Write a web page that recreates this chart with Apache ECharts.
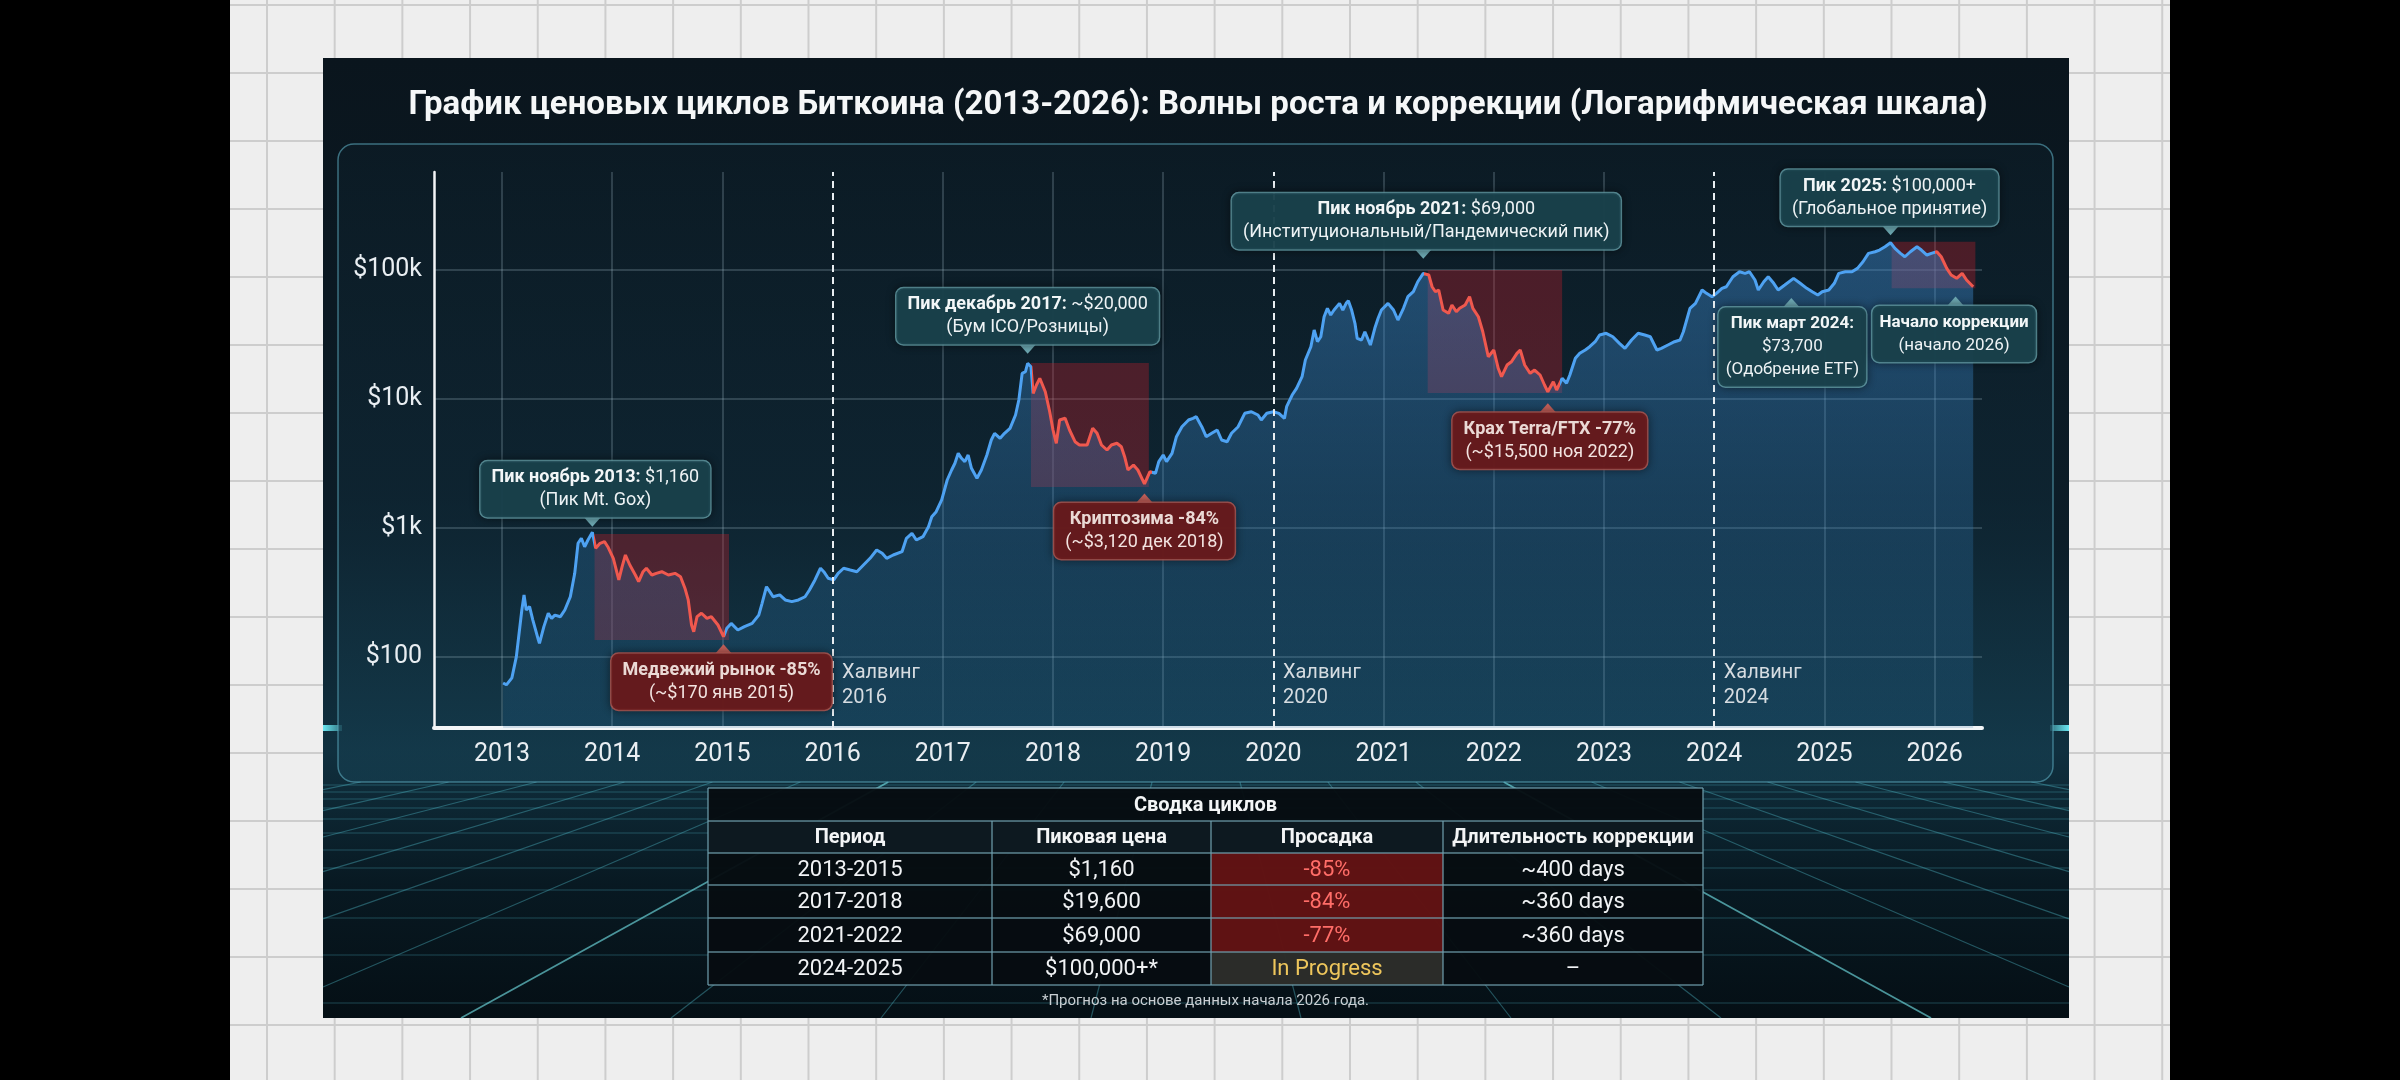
<!DOCTYPE html>
<html lang="ru">
<head>
<meta charset="utf-8">
<title>График ценовых циклов Биткоина (2013-2026)</title>
<script src="https://cdn.jsdelivr.net/npm/echarts@6.0.0/dist/echarts.min.js"></script>
<style>
  html, body { margin: 0; padding: 0; width: 2400px; height: 1080px; background: #000; overflow: hidden; }
  #paper {
    position: absolute; left: 230px; top: 0; width: 1940px; height: 1080px;
    background-color: #eeeeee;
    background-image: linear-gradient(#cdcdcd 2px, transparent 2px), linear-gradient(90deg, #cdcdcd 2px, transparent 2px);
    background-size: 67.7px 68px;
    background-position: 36px 4px;
  }
  #chart { position: absolute; left: 0; top: 0; width: 2400px; height: 1080px; }
</style>
</head>
<body>
<div id="paper"></div>
<div id="chart"></div>
<script>
var FONT = 'Roboto, "Noto Sans", sans-serif';

// price path (decimal year, USD)
var dates = [
  2013.01, 2013.04, 2013.09, 2013.13, 2013.18, 2013.20, 2013.22, 2013.25, 2013.28, 2013.33, 2013.34, 2013.38, 2013.42, 2013.45,
  2013.48, 2013.53, 2013.57, 2013.62, 2013.66, 2013.69, 2013.72, 2013.75, 2013.78, 2013.82, 2013.85, 2013.89, 2013.93, 2013.96,
  2014.01, 2014.06, 2014.09, 2014.12, 2014.16, 2014.21, 2014.24, 2014.28, 2014.31, 2014.36, 2014.40, 2014.45,
  2014.51, 2014.57, 2014.62, 2014.66, 2014.69, 2014.72, 2014.74, 2014.77, 2014.81, 2014.86, 2014.90, 2014.96,
  2015.01, 2015.04, 2015.08, 2015.14, 2015.20, 2015.27, 2015.33, 2015.36, 2015.40, 2015.43, 2015.46,
  2015.52, 2015.57, 2015.63, 2015.69, 2015.75, 2015.79, 2015.84, 2015.89, 2015.92, 2015.96,
  2016.01, 2016.05, 2016.10, 2016.16, 2016.22, 2016.28, 2016.34, 2016.40, 2016.45, 2016.49,
  2016.55, 2016.63, 2016.67, 2016.72, 2016.76, 2016.82, 2016.87, 2016.90, 2016.94, 2016.99,
  2017.04, 2017.08, 2017.11, 2017.14, 2017.17, 2017.20, 2017.23, 2017.26, 2017.31, 2017.35, 2017.40, 2017.44, 2017.47, 2017.52,
  2017.56, 2017.61, 2017.66, 2017.69, 2017.72, 2017.75, 2017.77, 2017.80, 2017.82, 2017.85, 2017.88, 2017.93, 2017.97,
  2018.00, 2018.03, 2018.06, 2018.11, 2018.15, 2018.20, 2018.24, 2018.31, 2018.36, 2018.40, 2018.44, 2018.49,
  2018.53, 2018.58, 2018.62, 2018.65, 2018.68, 2018.73, 2018.77, 2018.83, 2018.88, 2018.93, 2018.96,
  2019.00, 2019.03, 2019.08, 2019.12, 2019.17, 2019.23, 2019.27, 2019.30, 2019.35, 2019.39, 2019.44,
  2019.49, 2019.53, 2019.58, 2019.62, 2019.68, 2019.74, 2019.80, 2019.86, 2019.89, 2019.94,
  2020.00, 2020.05, 2020.10, 2020.12, 2020.17, 2020.21, 2020.26, 2020.29, 2020.34, 2020.37, 2020.40, 2020.43, 2020.46, 2020.49,
  2020.52, 2020.55, 2020.60, 2020.63, 2020.66, 2020.68, 2020.71, 2020.74, 2020.76, 2020.80, 2020.83, 2020.88, 2020.92, 2020.95, 2020.98,
  2021.04, 2021.09, 2021.13, 2021.18, 2021.22, 2021.27, 2021.31, 2021.36, 2021.41, 2021.44, 2021.47, 2021.50,
  2021.54, 2021.59, 2021.62, 2021.66, 2021.69, 2021.74, 2021.78, 2021.81, 2021.86, 2021.90, 2021.95,
  2022.00, 2022.04, 2022.07, 2022.12, 2022.16, 2022.21, 2022.24, 2022.28, 2022.33, 2022.37, 2022.42, 2022.46,
  2022.49, 2022.54, 2022.57, 2022.62, 2022.66, 2022.69, 2022.74, 2022.78, 2022.83, 2022.87, 2022.92, 2022.96,
  2023.02, 2023.08, 2023.14, 2023.19, 2023.25, 2023.31, 2023.37, 2023.42, 2023.48, 2023.52,
  2023.58, 2023.64, 2023.69, 2023.72, 2023.78, 2023.83, 2023.89, 2023.93, 2023.98,
  2024.02, 2024.07, 2024.11, 2024.17, 2024.23, 2024.28, 2024.32, 2024.37, 2024.40, 2024.45,
  2024.49, 2024.54, 2024.58, 2024.64, 2024.72, 2024.78, 2024.84, 2024.89, 2024.94, 2024.98,
  2025.04, 2025.09, 2025.13, 2025.19, 2025.25, 2025.30, 2025.35, 2025.40, 2025.46, 2025.50,
  2025.55, 2025.60, 2025.64, 2025.69, 2025.73, 2025.78, 2025.84, 2025.88, 2025.93, 2025.97,
  2026.02, 2026.06, 2026.11, 2026.15, 2026.20, 2026.25, 2026.29, 2026.35
];
var prices = [
  62, 60, 68, 99, 229, 300, 229, 243, 191, 134, 126, 170, 216, 197,
  209, 203, 229, 290, 441, 755, 826, 710, 801, 919, 691, 755, 777, 710,
  577, 392, 497, 612, 512, 428, 380, 454, 483, 428, 441, 454,
  428, 441, 415, 338, 274, 175, 155, 203, 216, 197, 203, 175,
  142, 165, 180, 160, 170, 180, 209, 258, 347, 318, 290,
  300, 274, 266, 274, 290, 327, 392, 483, 454, 404,
  392, 441, 483, 468, 454, 512, 577, 670, 631, 577,
  612, 650, 826, 903, 801, 850, 1016, 1215, 1329, 1639,
  2343, 2803, 3160, 3778, 3455, 3252, 3665, 2890, 2415, 2803, 3665, 4794, 5404, 4941,
  5404, 5910, 7497, 9800, 15810, 16270, 18910, 17790, 11050, 12830, 14460, 11370, 7950,
  5733, 4519, 6855, 7070, 5733, 4650, 4384, 4384, 5910, 5404, 4384, 4009,
  4384, 4519, 4253, 3556, 2803, 3065, 2803, 2182, 2719, 2642, 3252,
  3665, 3252, 3778, 5086, 6083, 6855, 7070, 7272, 6083, 5086, 5404,
  5733, 4794, 4650, 5404, 6083, 7727, 7950, 7497, 6855, 7727,
  7950, 7727, 7060, 8700, 10720, 12090, 14880, 20060, 25440, 34310, 27830, 30430, 43530, 50580,
  44860, 49070, 55310, 49070, 55310, 57940, 49070, 38670, 29580, 28690, 33280, 26230, 35380, 42300, 49070,
  55310, 49070, 41030, 50580, 62260, 68070, 81400, 94600, 91780, 74440, 68070, 70200,
  49070, 46250, 53650, 47590, 50580, 53650, 62260, 50580, 43530, 33280, 21280,
  23990, 17290, 14880, 18340, 19450, 22610, 23990, 18340, 15810, 16770, 15340, 12830,
  11370, 13610, 11730, 14460, 13220, 15340, 20680, 22610, 23990, 25440, 27830, 31370,
  32340, 30430, 27040, 24730, 28690, 32340, 31370, 30430, 23990, 24730,
  26230, 27830, 28690, 33280, 50580, 55310, 70200, 66140, 62260,
  66140, 72350, 74440, 89030, 97340, 94600, 97340, 83940, 70200, 81400,
  89030, 79130, 70200, 76740, 86510, 79130, 72350, 68070, 64170, 68070,
  70200, 79130, 94600, 97340, 97340, 103400, 116400, 135300, 139200, 143500,
  152300, 163600, 148000, 135300, 127300, 139200, 152300, 143500, 131300, 135300,
  139200, 127300, 103400, 91780, 86510, 94600, 83940, 74440
];

var axisYears = [2013, 2014, 2015, 2016, 2017, 2018, 2019, 2020, 2021, 2022, 2023, 2024, 2025, 2026];
var halvingYears = [2016, 2020, 2024];
var priceTicks = [100, 1000, 10000, 100000];
var priceTickLabels = ['$100', '$1k', '$10k', '$100k'];

// correction boxes: [start year, top price, end year, bottom price]
var corrections = [
  [2013.84, 892, 2015.06, 134],
  [2017.80, 19010, 2018.87, 2068],
  [2021.40, 100400, 2022.62, 11120],
  [2025.61, 166500, 2026.37, 72350]
];
// stretches of the line drawn red
var redSpans = [[2013.835, 2015.025], [2017.81, 2018.90], [2021.37, 2022.60], [2026.0, 2026.5]];

var notes = [
  { at: [2013.82, 919], head: 'Пик ноябрь 2013:', tail: ' $1,160', lines: ['(Пик Mt. Gox)'], tone: 'peak' },
  { at: [2017.77, 18910], head: 'Пик декабрь 2017:', tail: ' ~$20,000', lines: ['(Бум ICO/Розницы)'], tone: 'peak' },
  { at: [2021.36, 94600], head: 'Пик ноябрь 2021:', tail: ' $69,000', lines: ['(Институциональный/Пандемический пик)'], tone: 'peak' },
  { at: [2025.60, 163600], head: 'Пик 2025:', tail: ' $100,000+', lines: ['(Глобальное принятие)'], tone: 'peak' },
  { at: [2024.70, 84000], head: 'Пик март 2024:', tail: '', lines: ['$73,700', '(Одобрение ETF)'], tone: 'peak' },
  { at: [2026.19, 87000], head: 'Начало коррекции', tail: '', lines: ['(начало 2026)'], tone: 'peak' },
  { at: [2015.01, 142], head: 'Медвежий рынок -85%', tail: '', lines: ['(~$170 янв 2015)'], tone: 'drop' },
  { at: [2018.83, 2182], head: 'Криптозима -84%', tail: '', lines: ['(~$3,120 дек 2018)'], tone: 'drop' },
  { at: [2022.49, 11370], head: 'Крах Terra/FTX -77%', tail: '', lines: ['(~$15,500 ноя 2022)'], tone: 'drop' }
];

var tableTitle = 'Сводка циклов';
var tableHeader = ['Период', 'Пиковая цена', 'Просадка', 'Длительность коррекции'];
var tablePeriods = ['2013-2015', '2017-2018', '2021-2022', '2024-2025'];
var tablePeaks = ['$1,160', '$19,600', '$69,000', '$100,000+*'];
var tableDrawdowns = ['-85%', '-84%', '-77%', 'In Progress'];
var tableDurations = ['~400 days', '~360 days', '~360 days', '–'];
var tableNote = '*Прогноз на основе данных начала 2026 года.';

var chartTitle = 'График ценовых циклов Биткоина (2013-2026): Волны роста и коррекции (Логарифмическая шкала)';

// ---- layout / style ----
var BLUE = '#4ea2f2';
var RED = '#f0584e';
var noteOffsets = [[3, -43], [0, -47], [3, -52], [-1, -45], [1, 67], [-1.5, 56], [-2, 45], [0, 47], [2, 49]];
var noteFontSize = [18, 18, 18, 18, 17, 17, 18, 18, 18];
var notePadX = [11, 11, 11, 11, 7, 7, 11, 11, 11];
var LINE_H = 23, PAD_V = 5;
var HALVING_LABEL_AT = 59;

var seriesData = dates.map(function (d, i) { return [d, prices[i]]; });

function noteItem(n, i) {
  var off = noteOffsets[i];
  var fs = noteFontSize[i];
  var red = n.tone === 'drop';
  var above = off[1] < 0;
  var h = (1 + n.lines.length) * LINE_H + 2 * PAD_V + 3;
  var edge = above ? off[1] + h / 2 : off[1] - h / 2;
  var ty = above ? edge + 3.5 : edge - 3.5;
  var text = '{h|' + n.head + '}' + (n.tail ? '{t|' + n.tail + '}' : '');
  n.lines.forEach(function (l) { text += '\n{t|' + l + '}'; });
  return {
    coord: n.at,
    symbol: above ? 'path://M0,0L20,0L10,12Z' : 'path://M10,0L20,12L0,12Z',
    symbolSize: [16, 9],
    symbolOffset: [0, ty],
    itemStyle: { color: red ? '#c4605a' : '#6eaab4' },
    label: {
      show: true,
      position: 'inside',
      offset: [off[0], off[1] - ty],
      formatter: text,
      align: 'center',
      verticalAlign: 'middle',
      backgroundColor: red ? 'rgba(104,26,28,0.96)' : 'rgba(26,66,76,0.94)',
      borderColor: red ? 'rgba(204,98,90,0.85)' : 'rgba(112,178,188,0.85)',
      borderWidth: 1.5,
      borderRadius: 7,
      padding: [PAD_V, notePadX[i]],
      shadowColor: 'rgba(0,0,0,0.45)',
      shadowBlur: 8,
      textBorderWidth: 0,
      rich: {
        h: { fontFamily: FONT, fontSize: fs, fontWeight: 'bold', lineHeight: LINE_H, align: 'center',
             color: red ? '#ead9d5' : '#f2f6f7' },
        t: { fontFamily: FONT, fontSize: fs, lineHeight: LINE_H, align: 'center',
             color: red ? '#f3e4e1' : '#eef3f5' }
      }
    }
  };
}

function halvingItem(y) {
  return {
    coord: [y, HALVING_LABEL_AT],
    symbol: 'circle',
    symbolSize: 1,
    itemStyle: { color: 'rgba(0,0,0,0)' },
    label: {
      show: true, position: 'right', distance: 9,
      formatter: 'Халвинг\n' + y,
      color: '#d6dce1', fontSize: 20, lineHeight: 25, fontFamily: FONT, textBorderWidth: 0
    }
  };
}

function floorGraphics() {
  var vx = 1196, vy = 612, top = 782, bottom = 1018, left = 323, right = 2069;
  var els = [];
  var hs = [785, 792, 799, 808, 819, 833, 850, 868, 890, 918, 955, 1003];
  hs.forEach(function (y) {
    els.push({ type: 'line', shape: { x1: left, y1: y, x2: right, y2: y },
      style: { stroke: 'rgba(80,180,195,0.34)', lineWidth: 1.2 }, z: -8, silent: true });
  });
  for (var i = 0; i < 10; i++) {
    [-1, 1].forEach(function (s) {
      var o = s * (105 + 210 * i);
      var k = o / (bottom - vy);
      var xTop = vx + k * (top - vy);
      if (xTop < left || xTop > right) return;
      var yEnd = bottom, xEnd = vx + k * (bottom - vy);
      if (xEnd < left) { xEnd = left; yEnd = vy + (left - vx) / k; }
      if (xEnd > right) { xEnd = right; yEnd = vy + (right - vx) / k; }
      var bright = Math.abs(o) === 735;
      els.push({ type: 'line', shape: { x1: xTop, y1: top, x2: xEnd, y2: yEnd },
        style: { stroke: bright ? 'rgba(120,235,240,0.6)' : 'rgba(80,185,200,0.4)', lineWidth: bright ? 1.8 : 1.2 },
        z: -8, silent: true });
    });
  }
  // glow where the axis level meets the frame edges
  [[323, 342, 0], [2050, 2069, 1]].forEach(function (seg) {
    els.push({ type: 'rect', shape: { x: seg[0], y: 725, width: seg[1] - seg[0], height: 6 },
      style: { fill: new echarts.graphic.LinearGradient(seg[2] ? 1 : 0, 0, seg[2] ? 0 : 1, 0, [
        { offset: 0, color: 'rgba(110,240,250,0.95)' }, { offset: 1, color: 'rgba(110,240,250,0.35)' }]) },
      z: -8, silent: true });
  });
  return els;
}

function tableGraphics() {
  var colX = [708, 992, 1211, 1443, 1703];
  var rowY = [788, 821, 853, 885, 918, 952, 985];
  var W = colX[4] - colX[0];
  var lineColor = 'rgba(112,160,176,0.8)';
  var els = [];
  els.push({ type: 'rect', shape: { x: colX[0], y: rowY[0], width: W, height: rowY[6] - rowY[0] },
    style: { fill: 'rgba(6,12,17,0.96)' }, z: 50 });
  els.push({ type: 'rect', shape: { x: colX[0], y: rowY[1], width: W, height: rowY[2] - rowY[1] },
    style: { fill: 'rgba(13,26,33,0.97)' }, z: 50 });
  tableDrawdowns.forEach(function (d, i) {
    var drop = d.charAt(0) === '-';
    els.push({ type: 'rect', shape: { x: colX[2], y: rowY[i + 2], width: colX[3] - colX[2], height: rowY[i + 3] - rowY[i + 2] },
      style: { fill: drop ? 'rgba(112,20,20,0.85)' : 'rgba(50,50,46,0.85)' }, z: 51 });
  });
  rowY.forEach(function (y) {
    els.push({ type: 'line', shape: { x1: colX[0], y1: y, x2: colX[4], y2: y },
      style: { stroke: lineColor, lineWidth: 1.5 }, z: 52 });
  });
  colX.forEach(function (x, c) {
    var y0 = (c === 0 || c === 4) ? rowY[0] : rowY[1];
    els.push({ type: 'line', shape: { x1: x, y1: y0, x2: x, y2: rowY[6] },
      style: { stroke: lineColor, lineWidth: 1.5 }, z: 52 });
  });
  function txt(s, x, y, size, bold, color) {
    return { type: 'text', x: x, y: y, z: 53,
      style: { text: s, fill: color, fontSize: size, fontWeight: bold ? 'bold' : 'normal', fontFamily: FONT,
               align: 'center', verticalAlign: 'middle' } };
  }
  els.push(txt(tableTitle, (colX[0] + colX[4]) / 2, (rowY[0] + rowY[1]) / 2 + 1, 20, true, '#f3f5f6'));
  tableHeader.forEach(function (h, c) {
    els.push(txt(h, (colX[c] + colX[c + 1]) / 2, (rowY[1] + rowY[2]) / 2 + 1, 20, true, '#f3f5f6'));
  });
  for (var r = 0; r < tablePeriods.length; r++) {
    var cy = (rowY[r + 2] + rowY[r + 3]) / 2 + 1;
    var drop = tableDrawdowns[r].charAt(0) === '-';
    els.push(txt(tablePeriods[r], (colX[0] + colX[1]) / 2, cy, 22, false, '#f1f3f5'));
    els.push(txt(tablePeaks[r], (colX[1] + colX[2]) / 2, cy, 22, false, '#f1f3f5'));
    els.push(txt(tableDrawdowns[r], (colX[2] + colX[3]) / 2, cy, 22, false, drop ? '#ff6d68' : '#eec65c'));
    els.push(txt(tableDurations[r], (colX[3] + colX[4]) / 2, cy, 22, false, '#f1f3f5'));
  }
  els.push(txt(tableNote, (colX[0] + colX[4]) / 2, 1001, 15, false, '#c9cfd3'));
  return els;
}

var chart = echarts.init(document.getElementById('chart'), null, { renderer: 'canvas' });

var tickLabelOf = {};
priceTicks.forEach(function (v, i) { tickLabelOf[Math.round(Math.log10(v))] = priceTickLabels[i]; });

var option = {
  backgroundColor: 'transparent',
  animation: false,
  graphic: [
    { type: 'rect', z: -10, silent: true, shape: { x: 323, y: 58, width: 1746, height: 960 },
      style: { fill: new echarts.graphic.LinearGradient(0, 0, 0, 1, [
        { offset: 0, color: '#0a151d' }, { offset: 0.5, color: '#0c1d28' }, { offset: 0.72, color: '#10303f' },
        { offset: 0.76, color: '#0e2a37' }, { offset: 0.86, color: '#081922' }, { offset: 1, color: '#050f15' }]) } }
  ].concat(floorGraphics()).concat([
    { type: 'rect', z: -7, silent: true, shape: { x: 338, y: 144, width: 1715, height: 638, r: 16 },
      style: { stroke: 'rgba(92,170,190,0.6)', lineWidth: 1.5,
        fill: new echarts.graphic.LinearGradient(0, 0, 0, 1, [
          { offset: 0, color: 'rgba(12,28,38,0.72)' }, { offset: 0.55, color: 'rgba(15,40,54,0.62)' },
          { offset: 1, color: 'rgba(22,64,82,0.62)' }]) } },
    { type: 'text', x: 1198, y: 106, z: 5,
      style: { text: chartTitle, fill: '#f5f7f8', fontSize: 33, fontWeight: 'bold', fontFamily: FONT,
               align: 'center', verticalAlign: 'middle' } }
  ]).concat(tableGraphics()),
  grid: { left: 434, right: 418, top: 172, bottom: 352, containLabel: false, outerBoundsMode: 'none' },
  xAxis: {
    type: 'value', min: 2012.383, max: 2026.43,
    axisLine: { show: true, onZero: false, lineStyle: { color: '#f3f5f7', width: 4 } },
    axisTick: { show: false, customValues: axisYears.filter(function (y) { return halvingYears.indexOf(y) < 0; }) },
    axisLabel: { customValues: axisYears, color: '#e9eef2', fontSize: 25, fontFamily: FONT, margin: 14,
      formatter: function (v) { return String(Math.round(v)); } },
    splitLine: { show: true, lineStyle: { color: 'rgba(170,195,210,0.3)', width: 1.5 } }
  },
  yAxis: {
    type: 'log', logBase: 10, min: 27.7, max: 580000,
    axisLine: { show: true, lineStyle: { color: '#f3f5f7', width: 2.5 } },
    axisTick: { show: false, customValues: priceTicks },
    axisLabel: { customValues: priceTicks, color: '#e9eef2', fontSize: 25, fontFamily: FONT, margin: 12,
      formatter: function (v) { return tickLabelOf[Math.round(Math.log10(v))] || ''; } },
    splitLine: { show: true, lineStyle: { color: 'rgba(170,195,210,0.3)', width: 1.5 } }
  },
  visualMap: {
    type: 'piecewise', show: false, dimension: 0, seriesIndex: 0,
    pieces: redSpans.map(function (s) { return { gte: s[0], lte: s[1], color: RED }; }),
    outOfRange: { color: BLUE }
  },
  series: [{
    type: 'line',
    data: seriesData,
    symbol: 'none',
    showSymbol: false,
    lineStyle: { width: 3 },
    areaStyle: {
      origin: 'start',
      color: new echarts.graphic.LinearGradient(0, 0, 0, 1, [
        { offset: 0, color: 'rgba(64,142,214,0.62)' }, { offset: 1, color: 'rgba(40,112,164,0.26)' }])
    },
    markArea: {
      silent: true,
      itemStyle: { color: 'rgba(198,30,40,0.34)' },
      data: corrections.map(function (c) { return [{ coord: [c[0], c[1]] }, { coord: [c[2], c[3]] }]; })
    },
    markLine: {
      silent: true, symbol: ['none', 'none'], label: { show: false },
      lineStyle: { color: '#e8edf1', width: 2, type: [7, 5] },
      data: halvingYears.map(function (y) { return { xAxis: y }; })
    },
    markPoint: {
      silent: true,
      data: notes.map(noteItem).concat(halvingYears.map(halvingItem))
    }
  }]
};

chart.setOption(option);
</script>
</body>
</html>
